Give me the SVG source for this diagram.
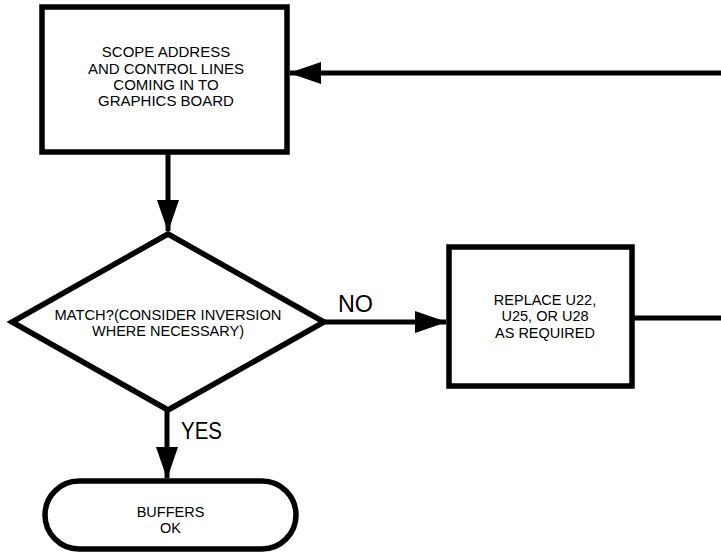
<svg xmlns="http://www.w3.org/2000/svg" width="721" height="554" viewBox="0 0 721 554">
<style>
.shape{fill:#fff;stroke:#000;stroke-width:5.5;stroke-linejoin:miter}
.conn{fill:none;stroke:#000;stroke-width:5}
.t{font-family:"Liberation Sans",Arial,sans-serif;font-size:15px;fill:#000;text-anchor:middle}
.s{font-size:14.5px}
.lbl{font-family:"Liberation Sans",Arial,sans-serif;font-size:23px;fill:#000}
</style>
<defs>
<marker id="ah" viewBox="0 0 32 22" refX="31" refY="11" markerWidth="32" markerHeight="22" markerUnits="userSpaceOnUse" orient="auto">
<path d="M0,0 L32,11 L0,22 Z" fill="#000"/>
</marker>
</defs>
<rect width="721" height="554" fill="#fff"/>
<g id="connectors">
<line class="conn" x1="168" y1="152" x2="168" y2="231" marker-end="url(#ah)"/>
<line class="conn" x1="325" y1="322" x2="446" y2="322" marker-end="url(#ah)"/>
<line class="conn" x1="632" y1="318" x2="721" y2="318"/>
<line class="conn" x1="721" y1="73" x2="290" y2="73" marker-end="url(#ah)"/>
<line class="conn" x1="167" y1="410" x2="167" y2="478" marker-end="url(#ah)"/>
<text class="lbl" x="338" y="311.5" textLength="35" lengthAdjust="spacingAndGlyphs">NO</text>
<text class="lbl" x="181" y="438.5" textLength="41" lengthAdjust="spacingAndGlyphs">YES</text>
</g>
<g id="scope">
<rect class="shape" x="42" y="7" width="245" height="145"/>
<text class="t"><tspan x="166" y="57">SCOPE ADDRESS</tspan><tspan x="166" y="73.5">AND CONTROL LINES</tspan><tspan x="166" y="90">COMING IN TO</tspan><tspan x="166" y="106">GRAPHICS BOARD</tspan></text>
</g>
<g id="match">
<polygon class="shape" points="168,234 12,322 168,410 324,322"/>
<text class="t s"><tspan x="168" y="319.5" textLength="227" lengthAdjust="spacingAndGlyphs">MATCH?(CONSIDER INVERSION</tspan><tspan x="168" y="336">WHERE NECESSARY)</tspan></text>
</g>
<g id="replace">
<rect class="shape" x="449" y="247" width="183" height="139"/>
<text class="t s"><tspan x="545" y="305">REPLACE U22,</tspan><tspan x="545" y="321.3">U25, OR U28</tspan><tspan x="545" y="337.6">AS REQUIRED</tspan></text>
</g>
<g id="buffers">
<rect class="shape" x="45" y="481" width="251" height="68" rx="34" ry="34"/>
<text class="t s"><tspan x="170.5" y="517">BUFFERS</tspan><tspan x="170.5" y="533.3">OK</tspan></text>
</g>
</svg>
